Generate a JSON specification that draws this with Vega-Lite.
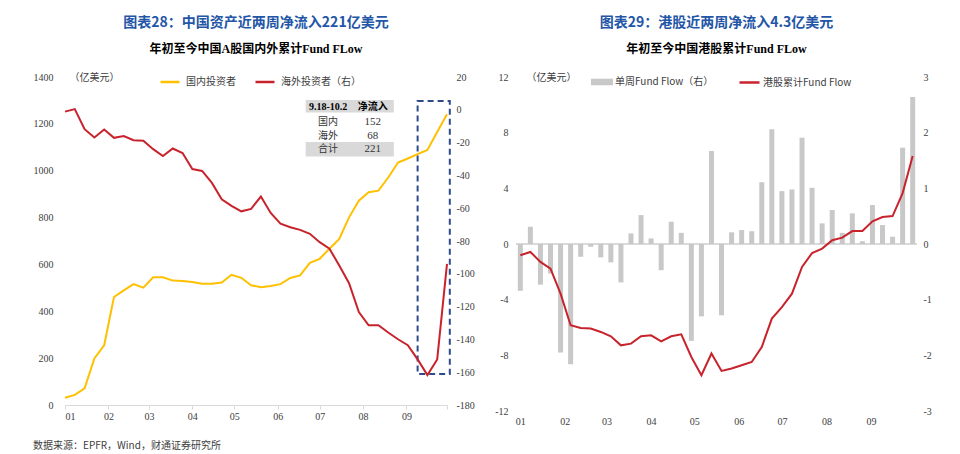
{
  "$schema": "https://vega.github.io/schema/vega-lite/v6.json",
  "background": "white",
  "padding": {"left": 33, "top": 16, "right": 0, "bottom": 0},
  "spacing": 19,
  "resolve": {"scale": {"color": "independent", "stroke": "independent"}, "legend": {"color": "independent", "stroke": "independent"}},
  "title": {"text": "数据来源：EPFR，Wind，财通证券研究所", "orient": "bottom", "anchor": "start", "font": "Noto Sans CJK SC", "fontSize": 10, "fontWeight": "normal", "color": "#404040", "offset": 15},
  "datasets": {
    "cn": [
      {"date": "2024-01-03", "domestic": 31, "foreign": -1.1},
      {"date": "2024-01-10", "domestic": 43, "foreign": 0.4},
      {"date": "2024-01-17", "domestic": 71, "foreign": -11.8},
      {"date": "2024-01-24", "domestic": 199, "foreign": -16.9},
      {"date": "2024-01-31", "domestic": 255, "foreign": -12.0},
      {"date": "2024-02-07", "domestic": 461, "foreign": -17.1},
      {"date": "2024-02-14", "domestic": 489, "foreign": -16.0},
      {"date": "2024-02-21", "domestic": 516, "foreign": -18.5},
      {"date": "2024-02-28", "domestic": 501, "foreign": -18.9},
      {"date": "2024-03-06", "domestic": 545, "foreign": -24.0},
      {"date": "2024-03-13", "domestic": 545, "foreign": -28.2},
      {"date": "2024-03-20", "domestic": 531, "foreign": -23.6},
      {"date": "2024-03-27", "domestic": 529, "foreign": -26.4},
      {"date": "2024-04-03", "domestic": 525, "foreign": -36.1},
      {"date": "2024-04-10", "domestic": 518, "foreign": -37.3},
      {"date": "2024-04-17", "domestic": 518, "foreign": -44.6},
      {"date": "2024-04-24", "domestic": 523, "foreign": -54.6},
      {"date": "2024-05-01", "domestic": 556, "foreign": -58.6},
      {"date": "2024-05-08", "domestic": 543, "foreign": -61.9},
      {"date": "2024-05-15", "domestic": 511, "foreign": -60.4},
      {"date": "2024-05-22", "domestic": 503, "foreign": -52.9},
      {"date": "2024-05-29", "domestic": 508, "foreign": -62.9},
      {"date": "2024-06-05", "domestic": 516, "foreign": -69.4},
      {"date": "2024-06-12", "domestic": 542, "foreign": -71.6},
      {"date": "2024-06-19", "domestic": 553, "foreign": -73.2},
      {"date": "2024-06-26", "domestic": 607, "foreign": -75.6},
      {"date": "2024-07-03", "domestic": 624, "foreign": -80.7},
      {"date": "2024-07-10", "domestic": 667, "foreign": -84.7},
      {"date": "2024-07-17", "domestic": 709, "foreign": -94.9},
      {"date": "2024-07-24", "domestic": 801, "foreign": -105.7},
      {"date": "2024-07-31", "domestic": 872, "foreign": -123.3},
      {"date": "2024-08-07", "domestic": 908, "foreign": -131.4},
      {"date": "2024-08-14", "domestic": 915, "foreign": -131.4},
      {"date": "2024-08-21", "domestic": 971, "foreign": -135.8},
      {"date": "2024-08-28", "domestic": 1035, "foreign": -139.9},
      {"date": "2024-09-04", "domestic": 1052, "foreign": -143.5},
      {"date": "2024-09-11", "domestic": 1071, "foreign": -152.2},
      {"date": "2024-09-18", "domestic": 1089, "foreign": -161.8},
      {"date": "2024-09-25", "domestic": 1165, "foreign": -152.2},
      {"date": "2024-10-02", "domestic": 1241, "foreign": -93.9}
    ],
    "hk": [
      {"date": "2024-01-03", "weekly": -0.84, "cum": -0.81},
      {"date": "2024-01-10", "weekly": 0.31, "cum": -0.57},
      {"date": "2024-01-17", "weekly": -0.73, "cum": -1.29},
      {"date": "2024-01-24", "weekly": -0.53, "cum": -1.77},
      {"date": "2024-01-31", "weekly": -1.95, "cum": -3.57},
      {"date": "2024-02-07", "weekly": -2.16, "cum": -5.84},
      {"date": "2024-02-14", "weekly": -0.23, "cum": -6.03},
      {"date": "2024-02-21", "weekly": -0.05, "cum": -6.08},
      {"date": "2024-02-28", "weekly": -0.24, "cum": -6.32},
      {"date": "2024-03-06", "weekly": -0.33, "cum": -6.63},
      {"date": "2024-03-13", "weekly": -0.69, "cum": -7.28},
      {"date": "2024-03-20", "weekly": 0.19, "cum": -7.16},
      {"date": "2024-03-27", "weekly": 0.52, "cum": -6.63},
      {"date": "2024-04-03", "weekly": 0.10, "cum": -6.56},
      {"date": "2024-04-10", "weekly": -0.47, "cum": -6.99},
      {"date": "2024-04-17", "weekly": 0.40, "cum": -6.63},
      {"date": "2024-04-24", "weekly": 0.20, "cum": -6.49},
      {"date": "2024-05-01", "weekly": -1.74, "cum": -8.12},
      {"date": "2024-05-08", "weekly": -1.30, "cum": -9.43},
      {"date": "2024-05-15", "weekly": 1.67, "cum": -7.87},
      {"date": "2024-05-22", "weekly": -1.28, "cum": -9.12},
      {"date": "2024-05-29", "weekly": 0.21, "cum": -8.95},
      {"date": "2024-06-05", "weekly": 0.25, "cum": -8.71},
      {"date": "2024-06-12", "weekly": 0.23, "cum": -8.48},
      {"date": "2024-06-19", "weekly": 1.11, "cum": -7.40},
      {"date": "2024-06-26", "weekly": 2.06, "cum": -5.36},
      {"date": "2024-07-03", "weekly": 0.95, "cum": -4.53},
      {"date": "2024-07-10", "weekly": 0.98, "cum": -3.57},
      {"date": "2024-07-17", "weekly": 1.91, "cum": -1.65},
      {"date": "2024-07-24", "weekly": 1.01, "cum": -0.65},
      {"date": "2024-07-31", "weekly": 0.37, "cum": -0.33},
      {"date": "2024-08-07", "weekly": 0.61, "cum": 0.27},
      {"date": "2024-08-14", "weekly": 0.20, "cum": 0.46},
      {"date": "2024-08-21", "weekly": 0.55, "cum": 0.93},
      {"date": "2024-08-28", "weekly": 0.05, "cum": 0.93},
      {"date": "2024-09-04", "weekly": 0.70, "cum": 1.63},
      {"date": "2024-09-11", "weekly": 0.34, "cum": 1.94},
      {"date": "2024-09-18", "weekly": 0.13, "cum": 2.01},
      {"date": "2024-09-25", "weekly": 1.73, "cum": 3.66},
      {"date": "2024-10-02", "weekly": 2.64, "cum": 6.32}
    ],
    "box": [
      {"start": "2024-09-11", "end": "2024-10-04", "top": 1298, "bottom": 132}
    ],
    "tbl": [
      {"k": "9.18-10.2", "v": "净流入"},
      {"k": "国内", "v": "152"},
      {"k": "海外", "v": "68"},
      {"k": "合计", "v": "221"}
    ]
  },
  "hconcat": [
    {
      "width": 382,
      "height": 328,
      "title": {"text": "图表28：中国资产近两周净流入221亿美元", "subtitle": "年初至今中国A股国内外累计Fund FLow", "anchor": "middle", "font": "Noto Sans CJK SC", "fontSize": 14, "fontWeight": "bold", "color": "#2356A6", "subtitleFont": "Liberation Serif, Noto Sans CJK SC", "subtitleFontSize": 12, "subtitleFontWeight": "bold", "subtitleColor": "#000000", "subtitlePadding": 14, "offset": 16},
      "layer": [
        {
          "layer": [
            {
              "data": {"name": "cn"},
              "mark": {"type": "line", "strokeWidth": 2},
              "encoding": {
                "x": {"field": "date", "type": "temporal", "title": null,
                  "scale": {"type": "utc", "padding": 0, "domain": [{"year": 2024, "month": 1, "date": 3, "utc": true}, {"year": 2024, "month": 10, "date": 2, "utc": true}]},
                  "axis": {"labelExpr": "datum.value > utc(2024, 8, 30) ? '' : utcFormat(datum.value, '%m')", "domain": true, "domainColor": "#D9D9D9", "ticks": true, "tickColor": "#D9D9D9", "tickSize": 4, "labelPadding": 2,
                    "values": [{"year": 2024, "month": 1, "date": 3, "utc": true}, {"year": 2024, "month": 2, "date": 3, "utc": true}, {"year": 2024, "month": 3, "date": 3, "utc": true}, {"year": 2024, "month": 4, "date": 3, "utc": true}, {"year": 2024, "month": 5, "date": 3, "utc": true}, {"year": 2024, "month": 6, "date": 3, "utc": true}, {"year": 2024, "month": 7, "date": 3, "utc": true}, {"year": 2024, "month": 8, "date": 3, "utc": true}, {"year": 2024, "month": 9, "date": 3, "utc": true}, {"year": 2024, "month": 10, "date": 2, "utc": true}]}},
                "y": {"field": "domestic", "type": "quantitative",
                  "scale": {"domain": [0, 1400], "nice": false},
                  "axis": {"orient": "left", "labelExpr": "toString(datum.value)", "values": [0, 200, 400, 600, 800, 1000, 1200, 1400], "labelPadding": 12, "title": "（亿美元）", "titleAngle": 0, "titleX": 4, "titleY": 0, "titleAlign": "left", "titleBaseline": "middle"}},
                "color": {"datum": "国内投资者",
                  "scale": {"domain": ["国内投资者", "海外投资者（右）"], "range": ["#FFC000", "#C8232C"]},
                  "legend": {"orient": "none", "legendX": 94, "legendY": -6, "direction": "horizontal", "symbolType": "stroke", "symbolSize": 361, "symbolStrokeWidth": 2.5, "columnPadding": 14, "labelOffset": 5}}
              }
            },
            {
              "data": {"name": "box"},
              "mark": {"type": "rect", "fill": null, "stroke": "#2E4A8B", "strokeWidth": 2, "strokeDash": [6, 4]},
              "encoding": {
                "x": {"field": "start", "type": "temporal"},
                "x2": {"field": "end"},
                "y": {"field": "top", "type": "quantitative"},
                "y2": {"field": "bottom"}
              }
            },
            {
              "data": {"name": "tbl"},
              "transform": [{"filter": "datum.k == '9.18-10.2'"}],
              "mark": {"type": "rect", "fill": "#D9D9D9"},
              "encoding": {
                "x": {"datum": {"year": 2024, "month": 6, "date": 23, "utc": true}, "type": "temporal"},
                "x2": {"datum": {"year": 2024, "month": 8, "date": 25, "utc": true}},
                "y": {"datum": 1302, "type": "quantitative"},
                "y2": {"datum": 1248}
              }
            },
            {
              "data": {"name": "tbl"},
              "transform": [{"filter": "datum.k == '合计'"}],
              "mark": {"type": "rect", "fill": "#D9D9D9"},
              "encoding": {
                "x": {"datum": {"year": 2024, "month": 6, "date": 23, "utc": true}, "type": "temporal"},
                "x2": {"datum": {"year": 2024, "month": 8, "date": 25, "utc": true}},
                "y": {"datum": 1123, "type": "quantitative"},
                "y2": {"datum": 1061}
              }
            },
            {
              "data": {"name": "tbl"},
              "transform": [{"filter": "datum.k == '9.18-10.2'"}],
              "mark": {"type": "text", "font": "Liberation Serif, Noto Sans CJK SC", "fontSize": 10, "fontWeight": "bold", "color": "#000000"},
              "encoding": {
                "x": {"datum": {"year": 2024, "month": 7, "date": 9, "utc": true}, "type": "temporal"},
                "y": {"datum": 1273, "type": "quantitative"},
                "text": {"field": "k"}
              }
            },
            {
              "data": {"name": "tbl"},
              "transform": [{"filter": "datum.k == '9.18-10.2'"}],
              "mark": {"type": "text", "font": "Noto Sans CJK SC", "fontSize": 10, "fontWeight": "bold", "color": "#000000"},
              "encoding": {
                "x": {"datum": {"year": 2024, "month": 8, "date": 10, "utc": true}, "type": "temporal"},
                "y": {"datum": 1273, "type": "quantitative"},
                "text": {"field": "v"}
              }
            },
            {
              "data": {"name": "tbl"},
              "transform": [{"filter": "datum.k == '国内'"}],
              "mark": {"type": "text", "font": "Noto Sans CJK SC", "fontSize": 10, "color": "#333333"},
              "encoding": {
                "x": {"datum": {"year": 2024, "month": 7, "date": 9, "utc": true}, "type": "temporal"},
                "y": {"datum": 1210, "type": "quantitative"},
                "text": {"field": "k"}
              }
            },
            {
              "data": {"name": "tbl"},
              "transform": [{"filter": "datum.k == '国内'"}],
              "mark": {"type": "text", "font": "Liberation Serif", "fontSize": 11, "color": "#333333"},
              "encoding": {
                "x": {"datum": {"year": 2024, "month": 8, "date": 10, "utc": true}, "type": "temporal"},
                "y": {"datum": 1210, "type": "quantitative"},
                "text": {"field": "v"}
              }
            },
            {
              "data": {"name": "tbl"},
              "transform": [{"filter": "datum.k == '海外'"}],
              "mark": {"type": "text", "font": "Noto Sans CJK SC", "fontSize": 10, "color": "#333333"},
              "encoding": {
                "x": {"datum": {"year": 2024, "month": 7, "date": 9, "utc": true}, "type": "temporal"},
                "y": {"datum": 1149, "type": "quantitative"},
                "text": {"field": "k"}
              }
            },
            {
              "data": {"name": "tbl"},
              "transform": [{"filter": "datum.k == '海外'"}],
              "mark": {"type": "text", "font": "Liberation Serif", "fontSize": 11, "color": "#333333"},
              "encoding": {
                "x": {"datum": {"year": 2024, "month": 8, "date": 10, "utc": true}, "type": "temporal"},
                "y": {"datum": 1149, "type": "quantitative"},
                "text": {"field": "v"}
              }
            },
            {
              "data": {"name": "tbl"},
              "transform": [{"filter": "datum.k == '合计'"}],
              "mark": {"type": "text", "font": "Noto Sans CJK SC", "fontSize": 10, "color": "#333333"},
              "encoding": {
                "x": {"datum": {"year": 2024, "month": 7, "date": 9, "utc": true}, "type": "temporal"},
                "y": {"datum": 1092, "type": "quantitative"},
                "text": {"field": "k"}
              }
            },
            {
              "data": {"name": "tbl"},
              "transform": [{"filter": "datum.k == '合计'"}],
              "mark": {"type": "text", "font": "Liberation Serif", "fontSize": 11, "color": "#333333"},
              "encoding": {
                "x": {"datum": {"year": 2024, "month": 8, "date": 10, "utc": true}, "type": "temporal"},
                "y": {"datum": 1092, "type": "quantitative"},
                "text": {"field": "v"}
              }
            }
          ]
        },
        {
          "data": {"name": "cn"},
          "mark": {"type": "line", "strokeWidth": 2},
          "encoding": {
            "x": {"field": "date", "type": "temporal"},
            "y": {"field": "foreign", "type": "quantitative",
              "scale": {"domain": [-180, 20], "nice": false},
              "axis": {"orient": "right", "labelExpr": "toString(datum.value)", "labelOverlap": false, "values": [-180, -160, -140, -120, -100, -80, -60, -40, -20, 0, 20], "labelPadding": 9, "title": null}},
            "color": {"datum": "海外投资者（右）"}
          }
        }
      ],
      "resolve": {"scale": {"y": "independent"}}
    },
    {
      "width": 401,
      "height": 334,
      "title": {"text": "图表29：港股近两周净流入4.3亿美元", "subtitle": "年初至今中国港股累计Fund FLow", "anchor": "middle", "font": "Noto Sans CJK SC", "fontSize": 14, "fontWeight": "bold", "color": "#2356A6", "subtitleFont": "Liberation Serif, Noto Sans CJK SC", "subtitleFontSize": 12, "subtitleFontWeight": "bold", "subtitleColor": "#000000", "subtitlePadding": 14, "offset": 16},
      "data": {"name": "hk"},
      "layer": [
        {
          "layer": [
            {
              "mark": {"type": "rule", "color": "#D9D9D9", "strokeWidth": 1},
              "encoding": {"y": {"datum": 0, "type": "quantitative"}}
            },
            {
              "mark": {"type": "bar", "width": 5},
              "encoding": {
                "x": {"field": "date", "type": "temporal", "title": null,
                  "scale": {"type": "utc", "padding": 0, "domain": [{"year": 2023, "month": 12, "date": 31, "utc": true}, {"year": 2024, "month": 10, "date": 5, "utc": true}]},
                  "axis": {"format": "%m", "labelPadding": 5,
                    "values": [{"year": 2024, "month": 1, "date": 3, "utc": true}, {"year": 2024, "month": 2, "date": 3, "utc": true}, {"year": 2024, "month": 3, "date": 3, "utc": true}, {"year": 2024, "month": 4, "date": 3, "utc": true}, {"year": 2024, "month": 5, "date": 3, "utc": true}, {"year": 2024, "month": 6, "date": 3, "utc": true}, {"year": 2024, "month": 7, "date": 3, "utc": true}, {"year": 2024, "month": 8, "date": 3, "utc": true}, {"year": 2024, "month": 9, "date": 3, "utc": true}]}},
                "y": {"field": "weekly", "type": "quantitative",
                  "scale": {"domain": [-3, 3], "nice": false},
                  "axis": {"orient": "right", "labelExpr": "toString(datum.value)", "values": [-3, -2, -1, 0, 1, 2, 3], "labelPadding": 6, "title": null}},
                "color": {"datum": "单周Fund Flow（右）",
                  "scale": {"range": ["#C8C8C8"]},
                  "legend": {"orient": "none", "legendX": 75, "legendY": -6, "symbolType": "M-1,-0.3H1V0.3H-1Z", "symbolSize": 484, "symbolStrokeWidth": 0, "labelOffset": 2}}
              }
            }
          ]
        },
        {
          "mark": {"type": "line", "strokeWidth": 2},
          "encoding": {
            "x": {"field": "date", "type": "temporal"},
            "y": {"field": "cum", "type": "quantitative",
              "scale": {"domain": [-12, 12], "nice": false},
              "axis": {"orient": "left", "labelExpr": "toString(datum.value)", "values": [-12, -8, -4, 0, 4, 8, 12], "labelPadding": 8, "title": "（亿美元）", "titleAngle": 0, "titleX": 10, "titleY": 0, "titleAlign": "left", "titleBaseline": "middle"}},
            "stroke": {"datum": "港股累计Fund Flow",
              "scale": {"range": ["#C8232C"]},
              "legend": {"orient": "none", "legendX": 222, "legendY": -6, "symbolType": "stroke", "symbolSize": 400, "symbolStrokeWidth": 2.5, "labelOffset": 2}}
          }
        }
      ],
      "resolve": {"scale": {"y": "independent"}}
    }
  ],
  "config": {
    "view": {"stroke": null},
    "axis": {"labelFont": "Liberation Serif", "labelFontSize": 10, "labelColor": "#404040", "labelOverlap": false, "grid": false, "ticks": false, "domain": false, "titleFont": "Noto Sans CJK SC", "titleFontSize": 10, "titleFontWeight": "normal", "titleColor": "#404040"},
    "legend": {"labelFont": "Noto Sans CJK SC", "labelFontSize": 10, "labelColor": "#404040", "title": null}
  }
}
